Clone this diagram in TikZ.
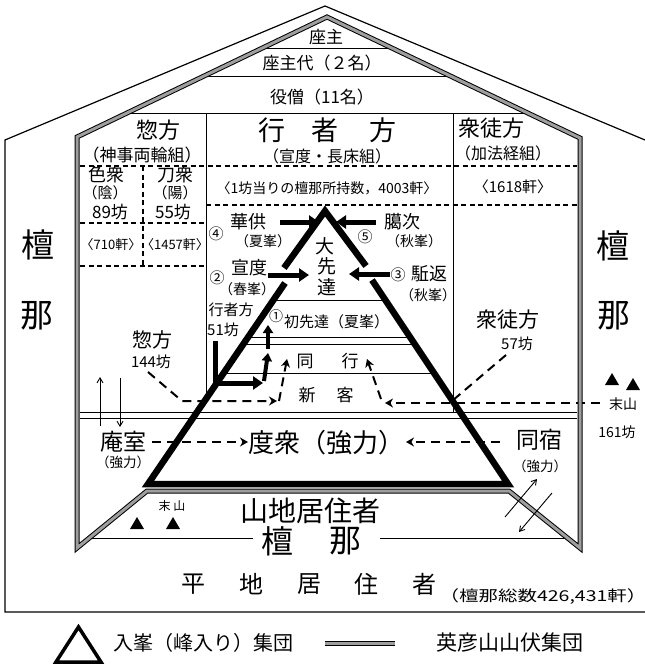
\documentclass[tikz,border=0pt]{standalone}
\usepackage{fontspec}
\usepackage{graphicx}
\newfontfamily\jp{Noto Sans CJK JP}
\usetikzlibrary{arrows.meta}
\newcommand\fsz[1]{\fontsize{#1}{#1}\selectfont}
\begin{document}
\begin{tikzpicture}[x=1pt,y=-1pt,
  every node/.style={font=\jp, inner sep=0pt, text=black},
  fs/.style={font=\jp\fsz{#1}},
  ln/.style={line width=1pt},
  outerl/.style={line width=1.2pt, line join=miter},
  yama/.style={draw=black, line width=1pt, double=black!38, double distance=3pt, line join=miter},
  tri/.style={line width=6.5pt, line join=miter},
  hd/.style={line width=1.2pt, dash pattern=on 5pt off 3.5pt},
  da/.style={line width=2pt, dash pattern=on 9pt off 6pt},
  dah/.style={da, -{Stealth[length=8pt,width=9pt]}},
  ba/.style={line width=5pt, -{Triangle[length=10pt,width=13pt]}},
  ua/.style={line width=4pt, -{Triangle[length=8pt,width=10pt]}},
  ta/.style={line width=0.9pt, -{Straight Barb[length=5pt,width=6pt]}},
  mtri/.style={fill=black}
]
\fill[white] (0,0) rectangle (645,672);
\useasboundingbox (0,0) rectangle (645,672);

% outer house
\draw[outerl] (645,140) -- (325,6) -- (5,140) -- (5,612) -- (645,612);

% roof storey lines
\draw[ln] (262,48) -- (392,48);
\draw[ln] (203,76) -- (451,76);
\draw[ln] (125,113) -- (529,113);

% column lines
\draw[ln] (206,113) -- (206,399);
\draw[ln] (453,113) -- (453,412);

% dashed separators
\draw[hd] (80,166) -- (577,166);
\draw[hd] (206,205) -- (577,205);
\draw[hd] (80,223) -- (206,223);
\draw[hd] (80,266) -- (206,266);
\draw[hd] (143,166) -- (143,266);

% long double thin line
\draw[ln] (80,412) -- (577,412);
\draw[ln] (80,418) -- (577,418);

% rows inside triangle
\draw[ln] (273,300) -- (385,300);
\draw[ln] (248,337) -- (410,337);
\draw[ln] (243,344) -- (415,344);
\draw[ln] (224,373) -- (434,373);

% bottom danna lines
\draw[ln] (85,538) -- (253,538);
\draw[ln] (380,538) -- (567,538);

% dashed arrows
\coordinate (sohoA) at (148,372);
\coordinate (sohoB) at (182,401);
\coordinate (sohoC) at (277,401);
\draw[dah] (sohoA) -- (sohoB) -- (sohoC);
\coordinate (matsuA) at (600,403);
\coordinate (matsuB) at (385,403);
\draw[dah] (matsuA) -- (matsuB);
\coordinate (shutoA) at (506,355);
\coordinate (shutoB) at (452,401);
\draw[da] (shutoA) -- (shutoB);
\coordinate (upLa) at (279,401);
\coordinate (upLb) at (287,359);
\draw[dah] (upLa) -- (upLb);
\coordinate (upRa) at (381,399);
\coordinate (upRb) at (367,359);
\draw[dah] (upRa) -- (upRb);
\coordinate (anA) at (152,442);
\coordinate (anB) at (248,442);
\draw[dah] (anA) -- (anB);
\coordinate (dsA) at (500,442);
\coordinate (dsB) at (406,442);
\draw[dah] (dsA) -- (dsB);

% big triangle
\draw[tri] (284,268) -- (325,211) -- (366,266);
\draw[tri] (285,283) -- (148,484) -- (508,484) -- (372,280);

% inner house (Hikosan yamabushi)
\draw[yama] (77,548) -- (77,137) -- (327,17) -- (580,138) -- (580,548) -- (509,491) -- (147,491) -- cycle;

% thick arrows
\coordinate (a4s) at (280,222); \coordinate (a4e) at (319,222);
\draw[ba] (a4s) -- (a4e);
\coordinate (a5s) at (376,222); \coordinate (a5e) at (336,222);
\draw[ba] (a5s) -- (a5e);
\coordinate (a2s) at (268,275); \coordinate (a2e) at (309,275);
\draw[ba] (a2s) -- (a2e);
\coordinate (a3s) at (390,274); \coordinate (a3e) at (349,274);
\draw[ba] (a3s) -- (a3e);
\coordinate (Ls) at (215,341); \coordinate (Lc) at (215,383); \coordinate (Le) at (263,383);
\draw[ba, line join=miter] (Ls) -- (Lc) -- (Le);
\coordinate (u1s) at (264,381); \coordinate (u1e) at (268,353);
\draw[ua] (u1s) -- (u1e);
\coordinate (u2s) at (268,349); \coordinate (u2e) at (268,325);
\draw[ua] (u2s) -- (u2e);

% thin arrows
\coordinate (t1s) at (100,426); \coordinate (t1e) at (100,377);
\draw[ta] (t1s) -- (t1e);
\coordinate (t2s) at (120,378); \coordinate (t2e) at (120,427);
\draw[ta] (t2s) -- (t2e);
\coordinate (t3s) at (505,517); \coordinate (t3e) at (537,479);
\draw[ta] (t3s) -- (t3e);
\coordinate (t4s) at (552,493); \coordinate (t4e) at (519,532);
\draw[ta] (t4s) -- (t4e);

% mountains
\fill[mtri] (130,529) -- (137,517) -- (144,529) -- cycle;
\fill[mtri] (166,529) -- (173,517) -- (180,529) -- cycle;
\fill[mtri] (605,385) -- (612,373) -- (619,385) -- cycle;
\fill[mtri] (626,390) -- (633,378) -- (640,390) -- cycle;

% texts
\node[fs=17] (zashu) at (326,37) {座主};
\node[fs=17] (zashudai) at (322,63) {座主代（２名）};
\node[fs=17] (yakuso) at (322,97) {役僧（11名）};
\node[fs=22] (sohoH) at (158,130) {惣方};
\node[fs=17] (sohoS) at (142,155) {（神事両輪組）};
\node[fs=27] (gyo1) at (272,130) {行};
\node[fs=27] (gyo2) at (325,130) {者};
\node[fs=27] (gyo3) at (383,130) {方};
\node[fs=16] (gyoS) at (327,156) {（宣度・長床組）};
\node[fs=22] (shutoH) at (491,128) {衆徒方};
\node[fs=16] (shutoS) at (503,153) {（加法経組）};
\node[fs=18] (iro) at (106,175) {色衆};
\node[fs=15] (in) at (105,193) {（陰）};
\node[fs=17] (iroB) at (110,212) {89坊};
\node[fs=18] (katana) at (175,175) {刀衆};
\node[fs=15] (yo) at (175,193) {（陽）};
\node[fs=17] (katanaB) at (173,212) {55坊};
\node[fs=13] (k710) at (111,245) {〈710軒〉};
\node[fs=13] (k1457) at (175,245) {〈1457軒〉};
\node[fs=14] (k4003) at (327,188) {〈1坊当りの檀那所持数，4003軒〉};
\node[fs=15] (k1618) at (513,187) {〈1618軒〉};
\node[fs=33] (dl1) at (38,245) {檀};
\node[fs=33] (dl2) at (37,316) {那};
\node[fs=33] (dr1) at (613,246) {檀};
\node[fs=33] (dr2) at (614,316) {那};
\node[fs=15] (n4) at (216,234) {④};
\node[fs=18] (kaku) at (248,222) {華供};
\node[fs=14] (kakuS) at (263,241) {（夏峯）};
\node[fs=15] (n5) at (365,237) {⑤};
\node[fs=18] (roji) at (402,222) {臈次};
\node[fs=14] (rojiS) at (414,241) {（秋峯）};
\node[fs=15] (n2) at (217,278) {②};
\node[fs=18] (sendo) at (249,268) {宣度};
\node[fs=14] (sendoS) at (247,289) {（春峯）};
\node[fs=15] (n3) at (398,275) {③};
\node[fs=18] (kake) at (429,274) {駈返};
\node[fs=14] (kakeS) at (428,295) {（秋峯）};
\node[fs=19] (dai) at (325,246) {大};
\node[fs=19] (sen) at (327,266) {先};
\node[fs=19] (tatsu) at (327,287) {達};
\node[fs=15] (gyoja) at (231,310) {行者方};
\node[fs=15] (gyojaB) at (223,330) {51坊};
\node[fs=14] (n1) at (276,316) {①};
\node[fs=15, anchor=west] (shosen) at (284,322) {初先達（夏峯）};
\node[fs=17] (do) at (305,361) {同};
\node[fs=17] (ko) at (350,361) {行};
\node[fs=17] (shin) at (307,395) {新};
\node[fs=17] (kyaku) at (345,395) {客};
\node[fs=20] (soho2) at (152,340) {惣方};
\node[fs=15] (soho2B) at (151,362) {144坊};
\node[fs=21] (shuto2) at (508,320) {衆徒方};
\node[fs=15] (shuto2B) at (517,344) {57坊};
\node[fs=23] (anshitsu) at (123,442) {庵室};
\node[fs=13.5] (anshitsuS) at (123,462) {（強力）};
\node[fs=26] (doshu) at (326,443) {度衆（強力）};
\node[fs=23] (doshuku) at (539,440) {同宿};
\node[fs=13.5] (doshukuS) at (540,466) {（強力）};
\node[fs=28] (sanchi) at (310,511) {山地居住者};
\node[fs=12] (matsuL) at (172,506) {末 山};
\node[fs=32] (dan) at (277,541) {檀};
\node[fs=32] (na) at (345,541) {那};
\node[fs=24] (h1) at (193,584) {平};
\node[fs=24] (h2) at (251,584) {地};
\node[fs=24] (h3) at (309,584) {居};
\node[fs=24] (h4) at (366,584) {住};
\node[fs=24] (h5) at (424,584) {者};
\node[fs=15] (total) at (543,596) {\scalebox{1.3}[1]{（檀那総数426,431軒）}};
\node[fs=14] (matsuR) at (623,404) {末山};
\node[fs=14] (matsuRB) at (617,432) {161坊};

% legend
\draw[line width=3.5pt, line join=miter] (78.5,627) -- (101,662) -- (56,662) -- cycle;
\node[fs=20, anchor=west] (leg1) at (113,643) {入峯（峰入り）集団};
\coordinate (lgA) at (325,643); \coordinate (lgB) at (395,643);
\draw[yama] (lgA) -- (lgB);
\node[fs=21, anchor=west] (leg2) at (436,643) {英彦山山伏集団};
\end{tikzpicture}
\end{document}
